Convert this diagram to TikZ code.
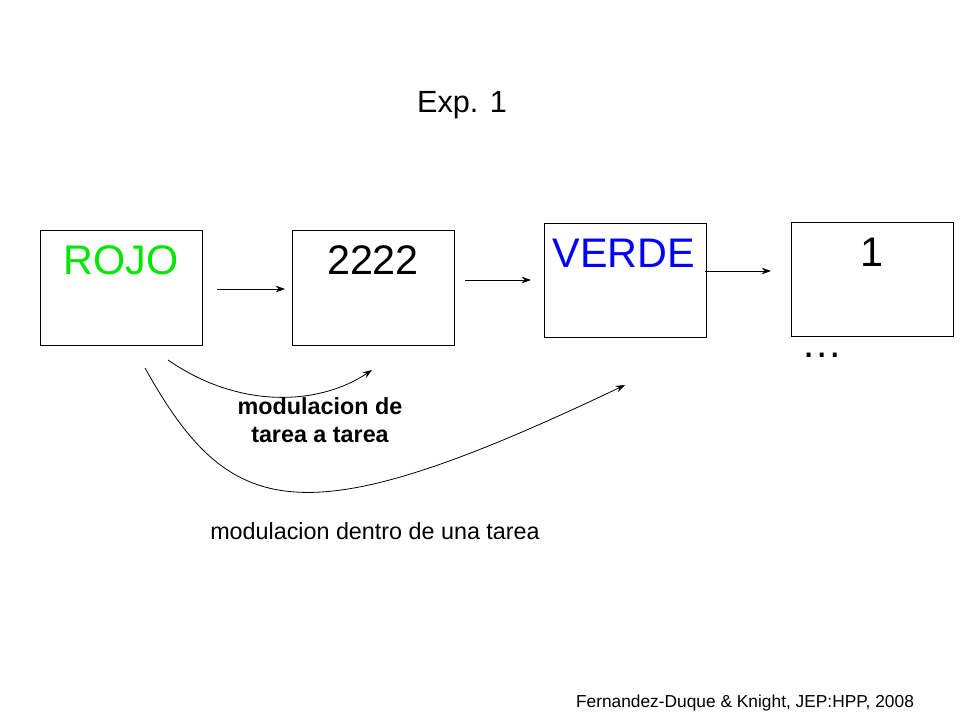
\documentclass[tikz,border=0pt]{standalone}
\usepackage{fontspec}
\setmainfont{Liberation Sans}
\usetikzlibrary{arrows.meta}
\definecolor{rojogreen}{RGB}{0,230,0}
\definecolor{verdeblue}{RGB}{0,0,255}
\tikzset{
	frame/.style={draw, line width=0.6pt, minimum width=122pt, minimum height=86pt, inner sep=0pt},
	word/.style={font=\fontsize{31}{34}\selectfont},
	arr/.style={-{Stealth[length=7pt,width=5pt]}, line width=0.6pt}
}
\begin{document}
\begin{tikzpicture}[x=0.75pt,y=-0.75pt]
	\useasboundingbox (0,0) rectangle (960,720);
	\node (exp) at (462,105) {\fontsize{23}{26}\selectfont Exp. 1};
	\node[frame] (b1) at (121.5,288) {};
	\node[frame] (b2) at (373.5,288) {};
	\node[frame] (b3) at (625.5,280.5) {};
	\node[frame] (b4) at (872.5,279.5) {};
		\node[word, text=rojogreen] (rojo) at (121,260) {ROJO};
		\node[word] (num) at (373,260) {2222};
		\node[word, text=verdeblue] (verde) at (624,253) {VERDE};
		\node[word] (one) at (872,252) {1};
		\node[word] (dots) at (822,355) {\ldots};
	\coordinate (a1) at (217,289); \coordinate (a2) at (285,289);
	\coordinate (a3) at (465,280); \coordinate (a4) at (531,280);
	\coordinate (a5) at (705,271); \coordinate (a6) at (771,271);
	\coordinate (c1) at (168,360); \coordinate (c2) at (372,370);
	\coordinate (d1) at (145,368); \coordinate (d2) at (625,385);
	\draw[arr] (a1) -- (a2);
	\draw[arr] (a3) -- (a4);
	\draw[arr] (a5) -- (a6);
	\draw[arr] (c1) .. controls (240,410) and (320,405) .. (c2);
	\draw[arr] (d1) .. controls (230,520) and (300,540) .. (d2);
	\node[align=center, font=\bfseries\fontsize{17.5}{21}\selectfont] (tarea) at (320,420) {modulacion de\\tarea a tarea};
	\node[font=\fontsize{17.5}{21}\selectfont] (dentro) at (375,531) {modulacion dentro de una tarea};
	\node[font=\fontsize{13}{15}\selectfont] (cite) at (745,703) {Fernandez-Duque \& Knight, JEP:HPP, 2008};
\end{tikzpicture}
\end{document}
